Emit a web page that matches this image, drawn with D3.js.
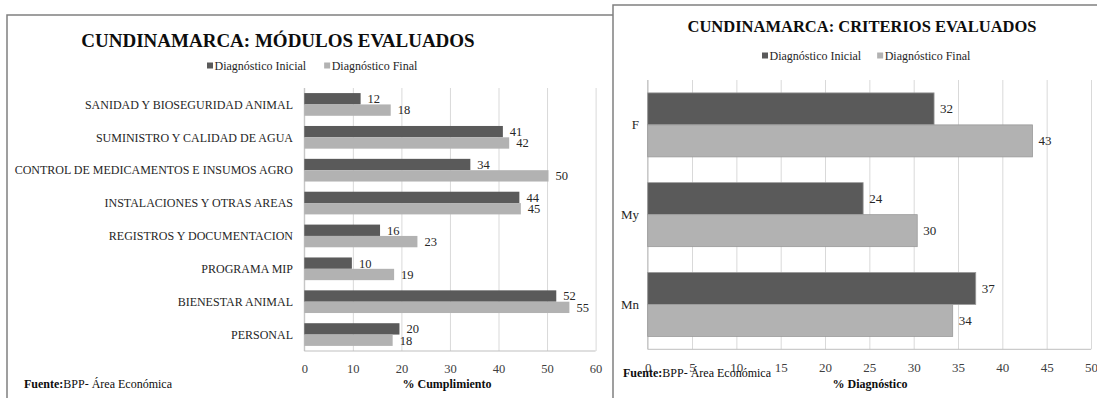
<!DOCTYPE html>
<html><head><meta charset="utf-8">
<script src="https://cdn.jsdelivr.net/npm/d3@7"></script>
<style>
html,body{margin:0;padding:0;background:#fff;}
svg{display:block;}
svg text{font-family:"Liberation Serif","Tinos","Times New Roman","DejaVu Serif","Noto Serif",serif;}
</style></head>
<body>
<svg id="c" width="1097" height="398"></svg>
<script>
// ---- data ----
const seriesNames = ["Diagnóstico Inicial", "Diagnóstico Final"];
const modulos = ["SANIDAD Y BIOSEGURIDAD ANIMAL","SUMINISTRO Y CALIDAD DE AGUA","CONTROL DE MEDICAMENTOS E INSUMOS AGRO","INSTALACIONES Y OTRAS AREAS","REGISTROS Y DOCUMENTACION","PROGRAMA MIP","BIENESTAR ANIMAL","PERSONAL"];
const modInicial = [11.6, 40.9, 34.2, 44.3, 15.6, 9.8, 51.9, 19.6];
const modFinal   = [17.8, 42.2, 50.3, 44.6, 23.3, 18.5, 54.6, 18.2];
const modTicks = [0,10,20,30,40,50,60];
const criterios = ["F","My","Mn"];
const critInicial = [32.3, 24.3, 37.0];
const critFinal   = [43.4, 30.4, 34.4];
const critTicks = [0,5,10,15,20,25,30,35,40,45,50];
const colors = ["#5a5a5a", "#b2b2b2"];

const svg = d3.select("#c");
const fmt = d3.format(".0f");

// panel borders
svg.append("path").attr("d","M7,400 V15 H613").attr("fill","none").attr("stroke","#808080").attr("stroke-width",1.5);
svg.append("path").attr("d","M613,400 V5 H1100").attr("fill","none").attr("stroke","#808080").attr("stroke-width",1.5);

function chart(o){
  const g = svg.append("g");
  const x = d3.scaleLinear().domain([o.ticks[0], o.ticks[o.ticks.length-1]]).range([o.x0,o.x1]);
  const y = d3.scaleBand().domain(o.cats).range([o.y0,o.y1]).paddingInner(o.pad).paddingOuter(o.pad/2);
  const ys = d3.scaleBand().domain([0,1]).range([0,y.bandwidth()]);
  // gridlines
  g.append("g").attr("transform",`translate(0,${o.y1})`)
    .call(d3.axisBottom(x).tickValues(o.ticks).tickSize(-(o.y1-o.y0)).tickFormat(""))
    .call(a=>a.select(".domain").remove())
    .call(a=>a.selectAll("line").attr("stroke","#d9d9d9").attr("stroke-width",1));
  // axis lines
  g.append("line").attr("x1",o.x0).attr("x2",o.x1).attr("y1",o.y1).attr("y2",o.y1).attr("stroke","#bfbfbf");
  g.append("line").attr("x1",o.x0).attr("x2",o.x0).attr("y1",o.y0).attr("y2",o.y1).attr("stroke","#bfbfbf");
  // tick labels
  g.append("g").attr("transform",`translate(0,${o.y1})`)
    .call(d3.axisBottom(x).tickValues(o.ticks).tickSize(0).tickPadding(o.tickPad))
    .call(a=>a.attr("font-family",null).attr("font-size",null))
    .call(a=>a.select(".domain").remove())
    .call(a=>a.selectAll("text").attr("font-size",o.fs).attr("fill","#404040"));
  // category labels
  g.append("g").selectAll("text").data(o.cats).join("text")
    .attr("x",o.catX).attr("y",d=>y(d)+y.bandwidth()/2).attr("dy","0.35em")
    .attr("text-anchor","end").attr("font-size",o.catFs).attr("fill","#262626").text(d=>d);
  // bars
  const vals=[o.s1,o.s2];
  vals.forEach((arr,si)=>{
    g.append("g").selectAll("rect").data(arr).join("rect")
      .attr("x",x(0)).attr("y",(d,i)=>y(o.cats[i])+ys(si))
      .attr("width",d=>x(d)-x(0)).attr("height",ys.bandwidth())
      .attr("fill",colors[si]).attr("stroke",o.stroke?"#9a9a9a":"none").attr("stroke-width",0.8);
    g.append("g").selectAll("text").data(arr).join("text")
      .attr("x",d=>x(d)+o.lblOff).attr("y",(d,i)=>y(o.cats[i])+ys(si)+ys.bandwidth()/2).attr("dy","0.35em")
      .attr("font-size",o.fs).attr("fill","#262626").text(d=>fmt(d));
  });
  // title
  g.append("text").attr("x",o.titleX).attr("y",o.titleY).attr("text-anchor","middle")
    .attr("font-weight","bold").attr("font-size",o.titleFs).attr("fill","#0d0d0d").text(o.title);
  // legend
  let lx=o.legX;
  seriesNames.forEach((n,i)=>{
    const lg=g.append("g");
    lg.append("rect").attr("x",lx).attr("y",o.legY-3.5).attr("width",6).attr("height",6).attr("fill",colors[i]);
    const t=lg.append("text").attr("x",lx+7.5).attr("y",o.legY).attr("dy","0.35em").attr("font-size",o.legFs).attr("fill","#262626").text(n);
    lx += 7.5 + t.node().getComputedTextLength() + o.legGap;
  });
  // axis title
  g.append("text").attr("x",o.axX).attr("y",o.axY).attr("text-anchor","middle").attr("font-weight","bold")
    .attr("font-size",12).attr("fill","#0d0d0d").text(o.axTitle);
  // source
  const s=g.append("text").attr("x",o.srcX).attr("y",o.srcY).attr("font-size",12).attr("fill","#0d0d0d");
  s.append("tspan").attr("font-weight","bold").text("Fuente:");
  s.append("tspan").text("BPP- Área Económica");
}

chart({cats:modulos,s1:modInicial,s2:modFinal,ticks:modTicks,
  x0:304.3,x1:595.6,y0:88,y1:351,pad:0.31,fs:12.5,catFs:12,tickPad:13,catX:293,lblOff:7,stroke:false,
  title:"CUNDINAMARCA:  MÓDULOS EVALUADOS",titleX:278,titleY:47,titleFs:19,
  legX:207,legY:66,legFs:12,legGap:18,
  axTitle:"% Cumplimiento",axX:447,axY:388,srcX:24,srcY:388});

chart({cats:criterios,s1:critInicial,s2:critFinal,ticks:critTicks,
  x0:647.7,x1:1091,y0:80,y1:349.3,pad:0.287,fs:13,catFs:13,tickPad:13,catX:639,lblOff:6,stroke:true,
  title:"CUNDINAMARCA:  CRITERIOS  EVALUADOS",titleX:862,titleY:32,titleFs:16.5,
  legX:762,legY:56,legFs:12,legGap:16,
  axTitle:"% Diagnóstico",axX:870,axY:388,srcX:623,srcY:377});
</script>
</body></html>
